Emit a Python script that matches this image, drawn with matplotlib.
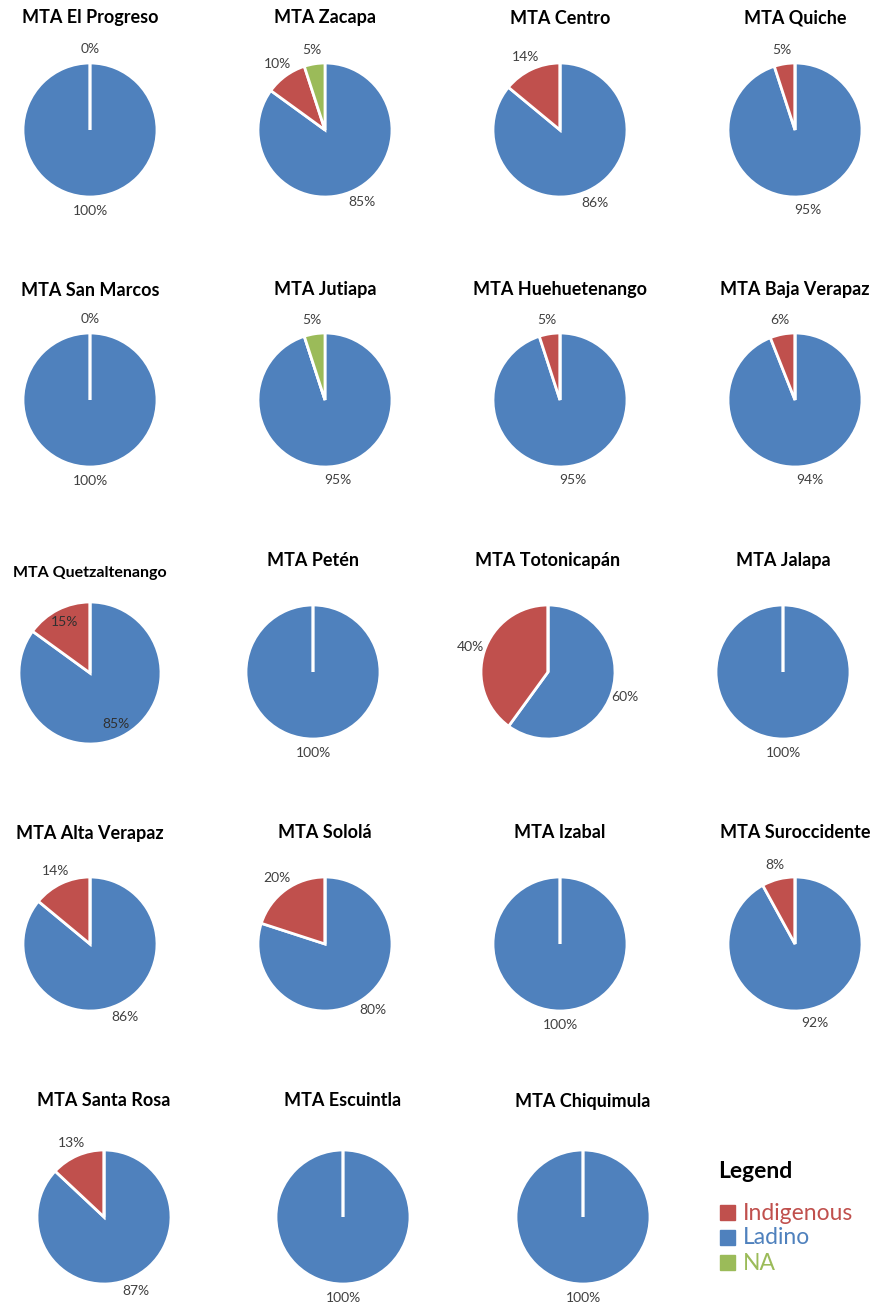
import matplotlib.pyplot as plt

# Ethnicity share per MTA (percent)
regions = ["El Progreso", "Zacapa", "Centro", "Quiche",
           "San Marcos", "Jutiapa", "Huehuetenango", "Baja Verapaz",
           "Quetzaltenango", "Petén", "Totonicapán", "Jalapa",
           "Alta Verapaz", "Sololá", "Izabal", "Suroccidente",
           "Santa Rosa", "Escuintla", "Chiquimula"]
ladino = [100, 85, 86, 95,
          100, 95, 95, 94,
          85, 100, 60, 100,
          86, 80, 100, 92,
          87, 100, 100]
indigenous = [0, 10, 14, 5,
              0, 0, 5, 6,
              15, 0, 40, 0,
              14, 20, 0, 8,
              13, 0, 0]
na = [0, 5, 0, 0,
      0, 5, 0, 0,
      0, 0, 0, 0,
      0, 0, 0, 0,
      0, 0, 0]
# charts that print a "0%" label for the empty slice
show_zero = ["El Progreso", "San Marcos"]

categories = ["Indigenous", "Ladino", "NA"]
colors = {"Ladino": "#4F81BD", "Indigenous": "#C0504D", "NA": "#9BBB59"}

W, H = 875, 1310
fig = plt.figure(figsize=(W / 100, H / 100), dpi=100)

# pixel layout: pie centres, radius, title heights
col_x = [90, 325, 560, 795]
row_y = [130, 400, 672, 944, 1217]
title_y = [18, 290, 560, 833, 1101]
radius = 67
shift = {"Quetzaltenango": (0, 1), "Petén": (-12, 0), "Totonicapán": (-12, 0),
         "Jalapa": (-12, 0), "Santa Rosa": (14, 0), "Escuintla": (18, 0),
         "Chiquimula": (23, 0)}

font = "Lato"

for i, name in enumerate(regions):
    r, c = divmod(i, 4)
    dx, dy = shift.get(name, (0, 0))
    cx, cy = col_x[c] + dx, row_y[r] + dy
    rad = 71 if name == "Quetzaltenango" else radius
    ax = fig.add_axes([(cx - rad) / W, 1 - (cy + rad) / H, 2 * rad / W, 2 * rad / H])

    vals = [ladino[i], indigenous[i], na[i]]
    keys = ["Ladino", "Indigenous", "NA"]
    labels = []
    for k, v in zip(keys, vals):
        if v > 0 or (k == "Indigenous" and name in show_zero):
            labels.append(f"{v}%")
        else:
            labels.append("")
    inside = name == "Quetzaltenango"
    ax.pie(vals, labels=labels, colors=[colors[k] for k in keys],
           startangle=90, counterclock=False, radius=1,
           labeldistance=0.8 if inside else 1.21,
           wedgeprops=dict(edgecolor="white", linewidth=2),
           textprops=dict(color="#303030" if inside else "#404040",
                          fontsize=10, family=font, ha="center", va="center"))
    for t in ax.texts:
        t.set_horizontalalignment("center")
    ax.set_xlim(-1, 1)
    ax.set_ylim(-1, 1)
    ax.set_aspect("equal")
    ax.axis("off")

    fs = 11.5 if name == "Quetzaltenango" else 13
    ty = title_y[r] + (13 if name == "Quetzaltenango" else 0)
    fig.text(cx / W, 1 - ty / H, f"MTA {name}", ha="center", va="center",
             fontsize=fs, fontweight="bold", family=font)

# hand-built legend
fig.text(718 / W, 1 - 1172 / H, "Legend", ha="left", va="center",
         fontsize=16.5, fontweight="bold", family=font)
for j, cat in enumerate(categories):
    y = 1213 + j * 25
    fig.patches.append(plt.Rectangle(((720) / W, 1 - (y + 7) / H), 15 / W, 15 / H,
                                     color=colors[cat], transform=fig.transFigure))
    fig.text(743 / W, 1 - y / H, cat, ha="left", va="center",
             fontsize=16.5, color=colors[cat], family=font)

fig.savefig("out.png", dpi=100)
